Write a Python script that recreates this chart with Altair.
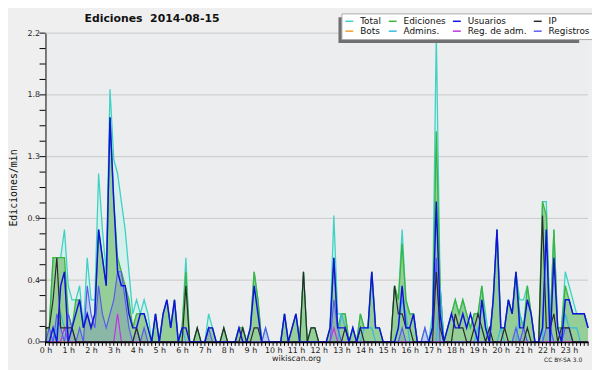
import altair as alt
import pandas as pd

# ---------------- data (edits per 10-minute slot, 00:00 .. 23:50; per minute = count / 10)
series_names = ["Total", "Ediciones", "Usuarios", "IP", "Bots", "Admins.", "Reg. de adm.", "Registros"]
series_colors = ["#3fd2c3", "#3db43d", "#1212e0", "#2a2a2a", "#f0a030", "#35b9e2", "#c235e0", "#5a5af0"]

title_text = "Ediciones\u00a0 2014-08-15"
y_title = "Ediciones/min"
footer_left = "wikiscan.org"
footer_right = "CC BY-SA 3.0"

hour_ticks = list(range(24))
y_major = [0.0, 0.44, 0.88, 1.32, 1.76, 2.2]
y_minor = [0.0, 0.11, 0.22, 0.33, 0.44, 0.55, 0.66, 0.77, 0.88, 0.99, 1.1,
           1.21, 1.32, 1.43, 1.54, 1.65, 1.76, 1.87, 1.98, 2.09, 2.2]

total = [
    1, 1, 6, 6, 6, 8,   4, 3, 3, 4, 1, 6,   3, 3, 12, 8, 5, 18,   13, 12, 10, 8, 5, 2,
    3, 2, 3, 2, 0, 2,   0, 2, 3, 1, 3, 0,   1, 6, 0, 0, 1, 0,   0, 2, 1, 0, 0, 1,
    0, 0, 0, 1, 1, 0,   1, 5, 3, 0, 1, 0,   0, 0, 0, 2, 0, 1,   2, 0, 5, 0, 1, 1,
    0, 0, 0, 1, 9, 2,   2, 2, 0, 1, 0, 2,   1, 1, 5, 1, 1, 0,   0, 0, 4, 3, 8, 3,
    2, 2, 0, 0, 1, 0,   2, 22, 4, 0, 1, 2,  3, 2, 3, 2, 1, 2,   2, 4, 2, 0, 3, 8,
    1, 1, 3, 2, 5, 3,   3, 4, 2, 0, 0, 10,  10, 1, 8, 1, 1, 5,  4, 3, 2, 2, 2, 1,
]
ediciones = [
    1, 1, 6, 6, 6, 6,   2, 1, 3, 3, 1, 2,   1, 2, 8, 6, 4, 16,   10, 6, 5, 4, 3, 1,
    2, 2, 2, 1, 0, 2,   0, 2, 3, 1, 3, 0,   1, 5, 0, 0, 1, 0,   0, 1, 1, 0, 0, 1,
    0, 0, 0, 1, 1, 0,   1, 5, 3, 0, 0, 0,   0, 0, 0, 2, 0, 1,   2, 0, 5, 0, 1, 1,
    0, 0, 0, 1, 6, 1,   2, 2, 0, 1, 0, 2,   1, 1, 5, 1, 1, 0,   0, 0, 4, 3, 7, 3,
    2, 2, 0, 0, 0, 0,   1, 15, 4, 0, 1, 2,  3, 2, 3, 2, 1, 2,   2, 4, 1, 0, 3, 8,
    1, 1, 3, 2, 5, 2,   1, 4, 2, 0, 0, 10,  9, 1, 8, 1, 1, 4,   3, 2, 2, 2, 2, 1,
]
usuarios = [
    0, 0, 1, 0, 4, 5,   0, 1, 2, 3, 1, 2,   1, 2, 8, 6, 4, 16,   10, 5, 4, 4, 2, 1,
    1, 2, 2, 1, 0, 2,   0, 2, 3, 1, 3, 0,   1, 1, 0, 0, 0, 0,   0, 1, 1, 0, 0, 0,
    0, 0, 0, 1, 0, 0,   1, 4, 2, 0, 0, 0,   0, 0, 0, 2, 0, 1,   2, 0, 0, 0, 0, 0,
    0, 0, 0, 1, 6, 1,   1, 1, 0, 1, 0, 1,   1, 1, 5, 1, 1, 0,   0, 0, 0, 1, 4, 1,
    1, 2, 0, 0, 0, 0,   1, 10, 2, 0, 1, 2,  1, 1, 2, 1, 2, 1,   0, 3, 1, 0, 3, 8,
    1, 1, 3, 2, 5, 1,   1, 3, 2, 0, 0, 1,   8, 0, 6, 1, 0, 3,   3, 2, 2, 2, 2, 1,
]
ip = [
    1, 1, 3, 6, 1, 1,   1, 1, 0, 0, 0, 0,   0, 0, 0, 0, 0, 0,   0, 0, 0, 0, 0, 0,
    1, 0, 0, 0, 0, 0,   0, 0, 0, 0, 0, 0,   0, 4, 0, 0, 1, 0,   0, 0, 0, 0, 0, 1,
    0, 0, 0, 0, 1, 0,   0, 1, 1, 0, 0, 0,   0, 0, 0, 0, 0, 0,   0, 0, 5, 0, 1, 1,
    0, 0, 0, 0, 0, 0,   0, 1, 0, 0, 0, 1,   0, 0, 0, 0, 0, 0,   0, 0, 4, 2, 2, 1,
    1, 0, 0, 0, 0, 0,   0, 5, 1, 0, 0, 0,   2, 1, 1, 0, 0, 1,   2, 1, 0, 1, 0, 0,
    0, 1, 0, 0, 0, 0,   0, 1, 0, 0, 0, 9,   1, 1, 2, 0, 1, 1,   1, 0, 0, 0, 0, 0,
]
bots = [0] * 144
admins = [
    0, 0, 0, 1, 2, 1,   0, 0, 0, 0, 0, 0,   0, 0, 0, 0, 0, 0,   0, 0, 0, 0, 0, 0,
    0, 0, 0, 0, 0, 0,   0, 0, 0, 0, 0, 0,   1, 0, 0, 0, 0, 0,   0, 0, 0, 0, 0, 0,
    0, 0, 0, 0, 0, 0,   0, 0, 0, 0, 0, 0,   0, 0, 0, 0, 0, 0,   0, 0, 0, 0, 0, 0,
    0, 0, 0, 0, 0, 0,   2, 1, 0, 0, 0, 0,   1, 1, 1, 0, 0, 0,   0, 0, 0, 1, 3, 2,
    0, 0, 0, 0, 0, 0,   0, 0, 4, 0, 0, 0,   0, 0, 0, 0, 0, 0,   1, 1, 0, 0, 0, 0,
    1, 0, 0, 0, 0, 2,   1, 0, 0, 0, 0, 0,   8, 1, 0, 0, 0, 2,   1, 1, 1, 0, 0, 0,
]
reg_adm = [
    0, 0, 0, 0, 0, 1,   0, 0, 0, 0, 0, 0,   0, 0, 0, 0, 0, 0,   0, 2, 0, 0, 0, 0,
    0, 0, 0, 0, 0, 0,   0, 0, 0, 0, 0, 0,   0, 0, 0, 0, 0, 0,   0, 0, 0, 0, 0, 0,
    0, 0, 0, 0, 0, 0,   0, 0, 0, 0, 0, 0,   0, 0, 0, 0, 0, 0,   0, 0, 0, 0, 0, 0,
    0, 0, 0, 0, 1, 0,   0, 0, 0, 0, 0, 0,   0, 0, 0, 0, 0, 0,   0, 0, 0, 0, 0, 0,
    0, 0, 0, 0, 0, 0,   0, 0, 0, 0, 0, 0,   0, 0, 0, 0, 0, 0,   0, 0, 0, 0, 0, 0,
    0, 0, 0, 0, 0, 0,   0, 0, 0, 0, 0, 0,   0, 0, 0, 0, 0, 0,   0, 0, 0, 0, 0, 0,
]
registros = [
    0, 1, 0, 2, 1, 0,   2, 1, 0, 1, 0, 4,   2, 1, 4, 2, 1, 2,   3, 5, 5, 3, 1, 0,
    1, 0, 1, 0, 0, 0,   0, 0, 0, 0, 0, 0,   0, 0, 0, 0, 0, 0,   0, 1, 0, 0, 0, 0,
    0, 0, 0, 0, 0, 0,   0, 0, 0, 0, 1, 0,   0, 0, 0, 0, 0, 0,   0, 0, 0, 0, 0, 0,
    0, 0, 0, 0, 3, 1,   0, 0, 0, 0, 0, 0,   0, 0, 0, 0, 0, 0,   0, 0, 0, 0, 1, 0,
    0, 0, 0, 0, 1, 0,   1, 6, 0, 0, 0, 0,   0, 0, 0, 0, 0, 0,   0, 0, 0, 0, 0, 0,
    0, 0, 0, 0, 1, 0,   1, 0, 0, 0, 0, 0,   1, 1, 0, 0, 0, 1,   1, 0, 0, 0, 0, 0,
]

all_series = [total, ediciones, usuarios, ip, bots, admins, reg_adm, registros]
rows = []
for name, arr in zip(series_names, all_series):
    for i, c in enumerate(arr):
        rows.append({"t": i / 6.0, "serie": name, "v": c / 10.0})
df = pd.DataFrame(rows)

# ---------------- scales / axes
W, H = 550, 313
xs = alt.Scale(domain=[0, 143 / 6.0], nice=False, zero=False)
ys = alt.Scale(domain=[0, 2.2], nice=False, zero=True)

x_axis = alt.Axis(values=hour_ticks, labelExpr="datum.value + ' h'", title=None, ticks=False,
                  grid=False, domainColor="#000000", domainWidth=1.5, labelFont="DejaVu Sans",
                  labelFontSize=8, labelColor="#222222", labelPadding=5, labelFlush=False,
                  labelOverlap=False, zindex=1)
y_axis = alt.Axis(values=y_major, format=".1f", title=None, ticks=False, grid=False,
                  domainColor="#000000", domainWidth=1, labelFont="DejaVu Sans", labelFontSize=8,
                  labelColor="#222222", labelPadding=6, labelFlush=False, labelOverlap=False, zindex=1)

X = alt.X("t:Q", scale=xs, axis=x_axis)
Y = alt.Y("v:Q", scale=ys, axis=y_axis, stack=None)

legend = alt.Legend(orient="none", legendX=300, legendY=-20, columns=4, direction="horizontal",
                    symbolType="stroke", symbolSize=64, symbolStrokeWidth=1.5,
                    labelFont="DejaVu Sans", labelFontSize=9, labelColor="#111111",
                    labelOffset=6, columnPadding=4, rowPadding=0, padding=3,
                    fillColor="#ffffff", strokeColor="#aaaaaa", title=None, zindex=1,
                    labelLimit=200)
color_enc = alt.Color("serie:N", scale=alt.Scale(domain=series_names, range=series_colors), legend=legend)

# ---------------- layers
grid = alt.Chart(pd.DataFrame({"v": y_major})).mark_rule(color="#c9c9c9", strokeWidth=1).encode(
    y=alt.Y("v:Q", scale=ys, axis=y_axis))

def area(name, fill, opacity):
    return alt.Chart(df).transform_filter(alt.datum.serie == name).mark_area(
        color=fill, opacity=opacity, interpolate="linear").encode(x=X, y=Y)

def line(name, width):
    return alt.Chart(df).transform_filter(alt.datum.serie == name).mark_line(
        strokeWidth=width, interpolate="linear").encode(x=X, y=Y, color=color_enc)

areas = [
    area("Total", "#d3efeb", 0.9),
    area("Ediciones", "#8ecb8e", 0.9),
    area("Registros", "#6a6ae0", 0.22),
]
lines = [
    line("Bots", 1.2),
    line("Total", 1.3),
    line("Ediciones", 1.3),
    line("Admins.", 1.2),
    line("Reg. de adm.", 1.2),
    line("Registros", 1.2),
    line("IP", 1.2),
    line("Usuarios", 1.5),
]

y_ticks = alt.Chart(pd.DataFrame({"v": y_minor})).mark_rule(color="#000000", strokeWidth=1).encode(
    y=alt.Y("v:Q", scale=ys, axis=y_axis), x=alt.value(-6), x2=alt.value(0))
x_ticks = alt.Chart(pd.DataFrame({"t": [i / 6.0 for i in range(144)]})).mark_rule(
    color="#000000", strokeWidth=1).encode(
    x=alt.X("t:Q", scale=xs, axis=x_axis), y=alt.value(H), y2=alt.value(H + 4))

shadow = alt.Chart(pd.DataFrame({"k": [1]})).mark_rect(color="#707070").encode(
    x=alt.value(297), x2=alt.value(541), y=alt.value(-16), y2=alt.value(10))

title = alt.Chart(pd.DataFrame({"label": [title_text]})).mark_text(
    font="DejaVu Sans", fontSize=11, fontWeight="bold", color="#111111",
    align="center", baseline="middle").encode(x=alt.value(108), y=alt.value(-14.5), text="label:N")
ytitle = alt.Chart(pd.DataFrame({"label": [y_title]})).mark_text(
    font="DejaVu Sans Mono", fontSize=10, color="#111111", angle=270,
    align="center", baseline="middle").encode(x=alt.value(-31.5), y=alt.value(157), text="label:N")
foot1 = alt.Chart(pd.DataFrame({"label": [footer_left]})).mark_text(
    font="DejaVu Sans", fontSize=8, color="#222222", align="center", baseline="middle").encode(
    x=alt.value(254.5), y=alt.value(330.5), text="label:N")
foot2 = alt.Chart(pd.DataFrame({"label": [footer_right]})).mark_text(
    font="DejaVu Sans", fontSize=6, color="#222222", align="right", baseline="middle").encode(
    x=alt.value(544), y=alt.value(331.5), text="label:N")

chart = alt.layer(grid, *areas, *lines, y_ticks, x_ticks, shadow, title, ytitle, foot1, foot2).properties(
    width=W, height=H,
    padding={"left": 38, "top": 23, "right": 4, "bottom": 26},
    autosize=alt.AutoSizeParams(type="none"),
    background="#efefef",
).configure_view(fill="#ecedef", stroke=None)

chart.save("out.html", embed_options={"renderer": "svg", "actions": False})
